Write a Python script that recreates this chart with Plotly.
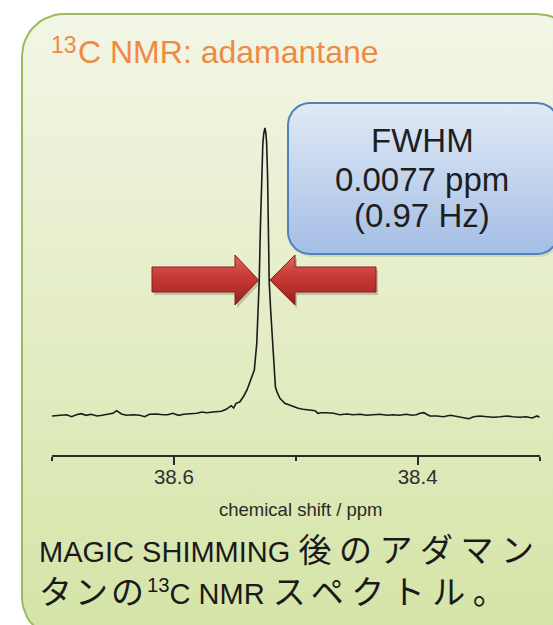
import numpy as np
import plotly.graph_objects as go

# ---------------- data ----------------
ppm = [38.700, 38.694, 38.688, 38.684, 38.680, 38.676, 38.672, 38.668, 38.663, 38.659,
       38.655, 38.650, 38.647, 38.643, 38.639, 38.633, 38.628, 38.624, 38.620, 38.614,
       38.609, 38.605, 38.601, 38.596, 38.592, 38.587, 38.581, 38.577, 38.573, 38.568,
       38.561, 38.557, 38.553, 38.551, 38.549, 38.546, 38.543, 38.540, 38.538, 38.534,
       38.532, 38.531, 38.530, 38.529, 38.528, 38.527, 38.5262, 38.5253, 38.5245, 38.5239,
       38.5231, 38.5223, 38.5218, 38.5206, 38.5190, 38.5177, 38.5167, 38.5155, 38.513, 38.509,
       38.503, 38.498, 38.494, 38.488, 38.484, 38.482, 38.479, 38.475, 38.469, 38.464,
       38.458, 38.453, 38.447, 38.442, 38.436, 38.431, 38.425, 38.420, 38.415, 38.409,
       38.405, 38.401, 38.398, 38.395, 38.393, 38.390, 38.384, 38.379, 38.373, 38.368,
       38.363, 38.358, 38.354, 38.349, 38.343, 38.338, 38.332, 38.327, 38.322, 38.316,
       38.311, 38.306, 38.302, 38.300]
intensity = [0.0, 0.24, 0.45, -0.24, 0.45, 0.80, 0.24, 0.59, 0.0, 0.24,
             0.59, 0.94, 1.84, 0.69, 0.24, 0.45, 0.24, -0.24, 0.59, 0.69,
             0.45, 0.45, 0.94, 0.24, 0.59, 0.80, 0.94, 1.39, 1.15, 1.39,
             1.63, 2.33, 3.58, 2.78, 4.41, 4.86, 6.70, 9.03, 11.35, 15.97,
             25.24, 36.80, 46.63, 65.73, 83.09, 94.68, 98.2, 100.0, 98.2, 94.68,
             83.09, 65.73, 46.63, 36.80, 25.24, 15.97, 10.17, 8.44, 6.15, 4.41,
             3.47, 2.67, 2.33, 2.08, 1.84, 0.94, 1.15, 1.15, 0.94, 0.45,
             0.69, 0.45, 0.59, 0.24, 0.45, 0.59, 0.24, 0.45, 0.24, 0.59,
             0.24, 0.45, 0.94, 1.15, 0.69, 0.0, 0.0, -0.24, 0.24, -0.24,
             -0.45, -0.94, -0.24, 0.0, -0.24, -0.45, -0.24, 0.0, -0.24, -0.45,
             -0.24, -0.69, 0.0, -0.45]

major_ticks = [38.6, 38.4]
major_labels = ["38.6", "38.4"]
minor_ticks = [38.7, 38.5, 38.3]

title_sup = "13"
title_main = "C NMR: adamantane"
fwhm_lines = ["FWHM", "0.0077 ppm", "(0.97 Hz)"]
xaxis_title = "chemical shift / ppm"
JP_WIDE = '<span style="font-size:33px;letter-spacing:7.5px">{}</span>'
JP_TIGHT = '<span style="font-size:33px;letter-spacing:3px">{}</span>'
caption_lines = ["MAGIC SHIMMING " + JP_WIDE.format("後のアダマン"),
                 JP_TIGHT.format("タンの") + "<sup>13</sup>C NMR " + JP_WIDE.format("スペクトル。")]

# ---------------- styling / geometry ----------------
W, H = 553, 625
FONT = "Liberation Sans, Arial, Helvetica, Noto Sans CJK JP, sans-serif"


def rrect(x0, y0, x1, y1, r, n=14):
    xs, ys = [], []
    for cx, cy, a0, a1 in [(x1 - r, y0 + r, -90, 0), (x1 - r, y1 - r, 0, 90),
                           (x0 + r, y1 - r, 90, 180), (x0 + r, y0 + r, 180, 270)]:
        t = np.radians(np.linspace(a0, a1, n))
        xs += list(cx + r * np.cos(t))
        ys += list(cy + r * np.sin(t))
    xs.append(xs[0]); ys.append(ys[0])
    return xs, ys


fig = go.Figure()

# panel with vertical gradient
px_, py_ = rrect(22, 14, 579, 639, 42)
fig.add_trace(go.Scatter(
    x=px_, y=py_, mode="lines", fill="toself",
    line=dict(color="#9BBB59", width=2),
    fillgradient=dict(type="vertical", start=14, stop=639,
                      colorscale=[[0, "#F2F6E6"], [0.5, "#E4EDC6"], [1, "#D4E4A6"]]),
    hoverinfo="skip", xaxis="x", yaxis="y"))

# callout box shadow + box
bx, by = rrect(290, 106, 561, 257, 22)
fig.add_trace(go.Scatter(x=bx, y=by, mode="lines", fill="toself",
                         line=dict(width=0, color="rgba(0,0,0,0)"),
                         fillcolor="rgba(60,70,40,0.12)", hoverinfo="skip",
                         xaxis="x", yaxis="y"))
bx, by = rrect(288, 103, 559, 254, 22)
fig.add_trace(go.Scatter(
    x=bx, y=by, mode="lines", fill="toself",
    line=dict(color="#4F81BD", width=2),
    fillgradient=dict(type="vertical", start=103, stop=254,
                      colorscale=[[0, "#E1EAF6"], [1, "#A4BEE5"]]),
    hoverinfo="skip", xaxis="x", yaxis="y"))

# arrows
left_arrow = ([152, 235, 235, 258.5, 235, 235, 152, 152],
              [267, 267, 255, 280, 305, 292, 292, 267])
right_arrow = ([270, 295, 295, 376, 376, 295, 295, 270],
               [280, 255, 267, 267, 292, 292, 305, 280])
for ax_, ay_ in (left_arrow, right_arrow):
    fig.add_trace(go.Scatter(x=[v + 2 for v in ax_], y=[v + 3 for v in ay_],
                             mode="lines", fill="toself",
                             line=dict(width=0, color="rgba(0,0,0,0)"),
                             fillcolor="rgba(60,40,20,0.22)", hoverinfo="skip",
                             xaxis="x", yaxis="y"))
    fig.add_trace(go.Scatter(
        x=ax_, y=ay_, mode="lines", fill="toself",
        line=dict(color="#8C1D1D", width=1),
        fillgradient=dict(type="vertical", start=255, stop=305,
                          colorscale=[[0, "#E06A62"], [0.35, "#CC3F3A"],
                                      [0.7, "#B52E2C"], [1, "#8E1F1F"]]),
        hoverinfo="skip", xaxis="x", yaxis="y"))

# spectrum
fig.add_trace(go.Scatter(x=ppm, y=intensity, mode="lines",
                         line=dict(color="#1B1B1B", width=1.6),
                         hoverinfo="skip", xaxis="x2", yaxis="y2"))

# ---------------- annotations ----------------
ann = []
ann.append(dict(text=title_sup, x=49, y=45, xref="x", yref="y", xanchor="left",
                yanchor="middle", showarrow=False,
                font=dict(family=FONT, size=23, color="#EF8A42")))
ann.append(dict(text=title_main, x=76, y=52, xref="x", yref="y", xanchor="left",
                yanchor="middle", showarrow=False,
                font=dict(family=FONT, size=32, color="#EF8A42")))
for txt, yc in zip(fwhm_lines, [140, 179, 215]):
    ann.append(dict(text=txt, x=422, y=yc, xref="x", yref="y", xanchor="center",
                    yanchor="middle", showarrow=False,
                    font=dict(family=FONT, size=33, color="#1E1E1E")))
ann.append(dict(text=xaxis_title, x=300, y=509, xref="x", yref="y", xanchor="center",
                yanchor="middle", showarrow=False,
                font=dict(family=FONT, size=18.5, color="#2A2A2A")))
for txt, yc in zip(caption_lines, [550, 592]):
    ann.append(dict(text=txt, x=37, y=yc, xref="x", yref="y", xanchor="left",
                    yanchor="middle", showarrow=False,
                    font=dict(family=FONT, size=29, color="#1A1A1A")))

fig.update_layout(
    width=W, height=H, margin=dict(l=0, r=0, t=0, b=0),
    paper_bgcolor="white", plot_bgcolor="rgba(0,0,0,0)", showlegend=False,
    xaxis=dict(domain=[0, 1], range=[0, W], visible=False, fixedrange=True),
    yaxis=dict(domain=[0, 1], range=[H, 0], visible=False, fixedrange=True),
    xaxis2=dict(domain=[52 / W, 540 / W], range=[38.700, 38.2996], anchor="y2",
                showline=True, linecolor="#2B2B2B", linewidth=2, mirror=False,
                ticks="outside", ticklen=8, tickwidth=2, tickcolor="#2B2B2B",
                tickvals=major_ticks, ticktext=major_labels, showgrid=False,
                zeroline=False, ticklabelstandoff=-6,
                tickfont=dict(family=FONT, size=20.5, color="#2E2E2E"),
                minor=dict(tickvals=minor_ticks, ticks="outside", ticklen=4,
                           tickwidth=2, tickcolor="#2B2B2B", showgrid=False)),
    yaxis2=dict(domain=[(H - 455) / H, (H - 100) / H], range=[-13.54, 109.72],
                anchor="x2", visible=False),
    annotations=ann,
)

fig.write_html("out.html")
